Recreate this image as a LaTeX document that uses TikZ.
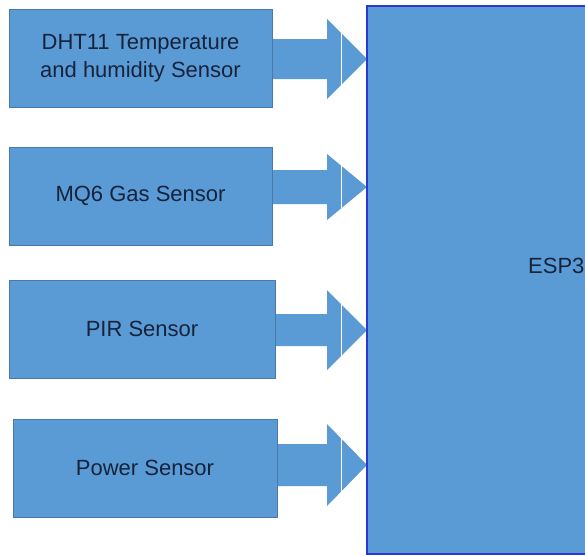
\documentclass[tikz,border=0pt]{standalone}
\usepackage{fontspec}
\setmainfont{Liberation Sans}
\usetikzlibrary{calc}
\definecolor{boxfill}{HTML}{5B9BD5}
\definecolor{boxline}{HTML}{4A78A8}
\definecolor{espline}{HTML}{2A3AD0}
\definecolor{txt}{HTML}{16233C}
\tikzset{
  sensorbox/.style={draw=boxline, line width=1pt, fill=boxfill, minimum height=98pt,
    inner sep=0pt, align=center, text=txt, font=\fontsize{22}{28}\selectfont},
  espbox/.style={draw=espline, line width=1.2pt, fill=boxfill},
  esptext/.style={text=txt, font=\fontsize{22}{28}\selectfont, inner sep=0pt},
  blockarrow/.style={fill=boxfill},
  gapline/.style={draw=white, line width=0.9pt}
}
\newcommand\blockarr[4]{% #1 box, #2 tip, #3 shaft half, #4 head half
  \fill[blockarrow] ($(#1.east |- #2)+(-1,-#3)$) -- ($(#2)+(-40,-#3)$) -- ($(#2)+(-40,-#4)$)
    -- (#2) -- ($(#2)+(-40,#4)$) -- ($(#2)+(-40,#3)$) -- ($(#1.east |- #2)+(-1,#3)$) -- cycle;
  \draw[gapline] ($(#2)+(-26,{-#4*26/40})$) -- ($(#2)+(-26,{#4*26/40})$);
}
\begin{document}
\begin{tikzpicture}[x=1pt,y=-1pt]
\useasboundingbox (0,0) rectangle (585,555);
\clip (0,0) rectangle (585,555);
\fill[white] (0,0) rectangle (585,555);
% sensor boxes
\node[sensorbox, minimum width=263pt] (s1) at (140.5,58) {DHT11 Temperature\\and humidity Sensor};
\node[sensorbox, minimum width=263pt] (s2) at (140.5,196) {MQ6 Gas Sensor};
\node[sensorbox, minimum width=266pt] (s3) at (142,329) {PIR Sensor};
\node[sensorbox, minimum width=264pt] (s4) at (145,468) {Power Sensor};
% arrow tips on the ESP32 block
\coordinate (t1) at (367,59);
\coordinate (t2) at (367,187);
\coordinate (t3) at (367,330);
\coordinate (t4) at (367,465);
\blockarr{s1}{t1}{20}{40}
\blockarr{s2}{t2}{17}{33}
\blockarr{s3}{t3}{16}{40}
\blockarr{s4}{t4}{21}{41}
% redraw box outlines over arrow starts
\foreach \b in {s1,s2,s3,s4} \draw[boxline, line width=1pt] (\b.north east) -- (\b.south east);
% ESP32 block
\node[espbox, minimum width=240pt, minimum height=548pt, inner sep=0pt] (esp) at (487,280) {};
\node[esptext, anchor=west] (esplbl) at (528,266) {ESP32};
\end{tikzpicture}
\end{document}
